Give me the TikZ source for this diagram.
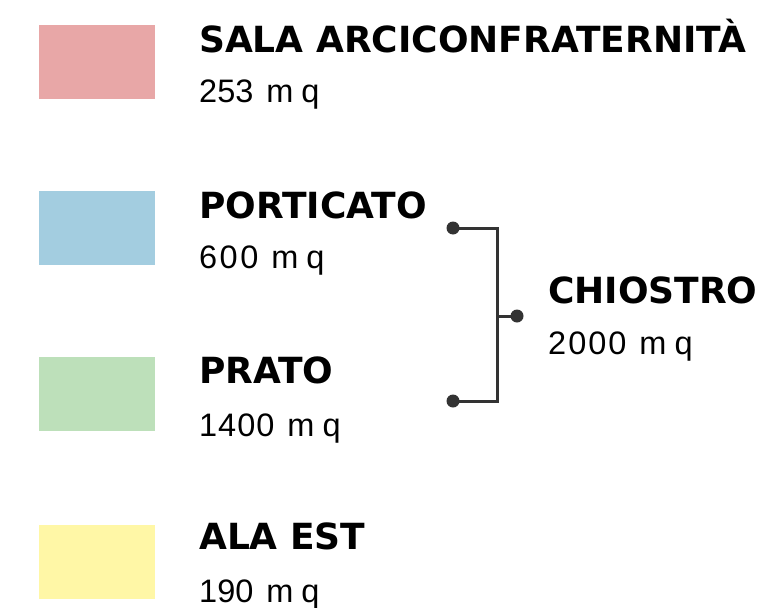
\documentclass[tikz,border=0pt]{standalone}
\usepackage{fontspec}
\setmainfont{Liberation Sans}
\newfontfamily\titlefont{DejaVu Sans}
\definecolor{cpink}{HTML}{E8A7A7}
\definecolor{cblue}{HTML}{A3CDE0}
\definecolor{cgreen}{HTML}{BDE0BA}
\definecolor{cyellow}{HTML}{FFF7A6}
\definecolor{cline}{HTML}{333333}
\newcommand\dg[1]{\hspace{#1}}
\newcommand\mq{\hspace{13pt}m\hspace{8pt}q}
\begin{document}
\begin{tikzpicture}[x=1pt,y=-1pt,
  swatch/.style={inner sep=0pt, minimum width=116pt, minimum height=74pt, anchor=north west},
  ttl/.style={anchor=base west, inner sep=0pt, font=\titlefont\bfseries\fontsize{36}{36}\selectfont},
  num/.style={anchor=base west, inner sep=0pt, font=\fontsize{32.5}{32.5}\selectfont},
  dotc/.style={circle, fill=cline, inner sep=0pt, minimum size=13pt},
  conn/.style={draw=cline, line width=3pt}]
\useasboundingbox (0,0) rectangle (761,608);
\node[swatch, fill=cpink] (s1) at (39,25) {};
\node[swatch, fill=cblue] (s2) at (39,191) {};
\node[swatch, fill=cgreen] (s3) at (39,357) {};
\node[swatch, fill=cyellow] (s4) at (39,525) {};
\node[ttl] (t1) at (199,52) {SALA ARCICONFRATERNITÀ};
\node[num] (n1) at (199,102) {253\mq};
\node[ttl] (t2) at (199,218) {PORTICATO};
\node[num] (n2) at (199,268) {6\dg{2.5pt}0\dg{2.5pt}0\mq};
\node[ttl] (t3) at (199,383) {PRATO};
\node[num] (n3) at (199,436) {1\dg{1pt}4\dg{1pt}0\dg{1pt}0\mq};
\node[ttl] (t4) at (199,549) {ALA EST};
\node[num] (n4) at (199,602) {190\mq};
\node[ttl] (t5) at (548,303) {CHIOSTRO};
\node[num] (n5) at (548,354) {2\dg{2pt}0\dg{2pt}0\dg{2pt}0\mq};
\node[dotc] (d1) at (453,228) {};
\node[dotc] (d2) at (453,401) {};
\node[dotc] (d3) at (517,316) {};
\coordinate (c1) at (497,228);
\coordinate (c2) at (497,401);
\coordinate (c3) at (497,316);
\draw[conn] (d1.center) -- (c1) -- (c2) -- (d2.center);
\draw[conn] (c3) -- (d3.center);
\end{tikzpicture}
\end{document}
